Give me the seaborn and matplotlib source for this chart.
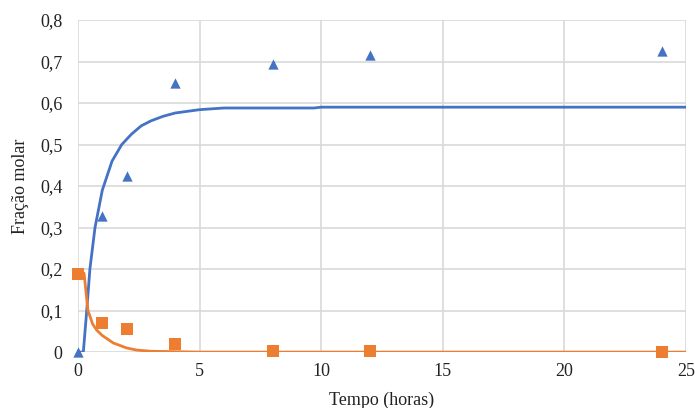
import matplotlib
matplotlib.use("Agg")
import matplotlib.pyplot as plt
from matplotlib.ticker import FuncFormatter, MultipleLocator
import seaborn as sns
import pandas as pd

# Experimental points
t_exp = [0, 1, 2, 4, 8, 12, 24]
produto_exp = [0.0, 0.328, 0.424, 0.648, 0.694, 0.716, 0.725]
reagente_exp = [0.188, 0.070, 0.055, 0.019, 0.003, 0.002, 0.0]

# Model curves
t_mod_p = [0, 0.22, 0.36, 0.49, 0.7, 1.0, 1.4, 1.8, 2.2, 2.6, 3.0, 3.5, 4.0, 5.0, 6.0, 8.0, 9.7, 10.0, 25.0]
produto_mod = [0.0, 0.0, 0.10, 0.20, 0.30, 0.39, 0.46, 0.50, 0.525, 0.545, 0.557, 0.568, 0.576, 0.584, 0.588, 0.588, 0.588, 0.590, 0.590]
t_mod_r = [0, 0.25, 0.41, 0.5, 0.6, 0.77, 1.0, 1.45, 2.0, 2.4, 3.0, 4.0, 5.0, 25.0]
reagente_mod = [0.19, 0.19, 0.10, 0.085, 0.068, 0.053, 0.04, 0.022, 0.01, 0.005, 0.002, 0.001, 0.0, 0.0]

x_label = "Tempo (horas)"
y_label = "Fração molar"

BLUE = "#4472C4"
ORANGE = "#ED7D31"

sns.set_theme(style="white")
plt.rcParams['font.family'] = ['Liberation Serif', 'DejaVu Serif']

fig = plt.figure(figsize=(6.95, 4.08), dpi=100)
ax = fig.add_axes([0.1122, 0.137, 0.987 - 0.1122, 0.951 - 0.137])

dfp = pd.DataFrame({"t": t_mod_p, "y": produto_mod})
dfr = pd.DataFrame({"t": t_mod_r, "y": reagente_mod})
dfe = pd.DataFrame({"t": t_exp, "p": produto_exp, "r": reagente_exp})

sns.lineplot(data=dfp, x="t", y="y", color=BLUE, linewidth=2.0, ax=ax, zorder=3)
sns.lineplot(data=dfr, x="t", y="y", color=ORANGE, linewidth=2.0, ax=ax, zorder=3)
sns.scatterplot(data=dfe, x="t", y="p", marker="^", s=55, color=BLUE, edgecolor=BLUE, linewidth=0, ax=ax, zorder=4, clip_on=False)
sns.scatterplot(data=dfe, x="t", y="r", marker="s", s=75, color=ORANGE, edgecolor=ORANGE, linewidth=0, ax=ax, zorder=4, clip_on=False)

ax.set_xlim(0, 25)
ax.set_ylim(0, 0.8)
ax.xaxis.set_major_locator(MultipleLocator(5))
ax.yaxis.set_major_locator(MultipleLocator(0.1))
ax.yaxis.set_major_formatter(FuncFormatter(lambda v, p: "0" if abs(v) < 1e-9 else f"{v:.1f}".replace(".", ",")))
ax.xaxis.set_major_formatter(FuncFormatter(lambda v, p: f"{int(round(v))}"))

ax.grid(True, color="#D9D9D9", linewidth=1.2)
ax.set_axisbelow(True)
for s in ax.spines.values():
    s.set_visible(False)

ax.tick_params(axis="both", length=0, labelsize=13, colors="#222222")
ax.tick_params(axis="y", pad=11)
ax.tick_params(axis="x", pad=8)
ax.set_xlabel(x_label, fontsize=13, color="#222222", labelpad=8)
ax.set_ylabel(y_label, fontsize=13, color="#222222", labelpad=8)

fig.savefig("out.png", dpi=100)
